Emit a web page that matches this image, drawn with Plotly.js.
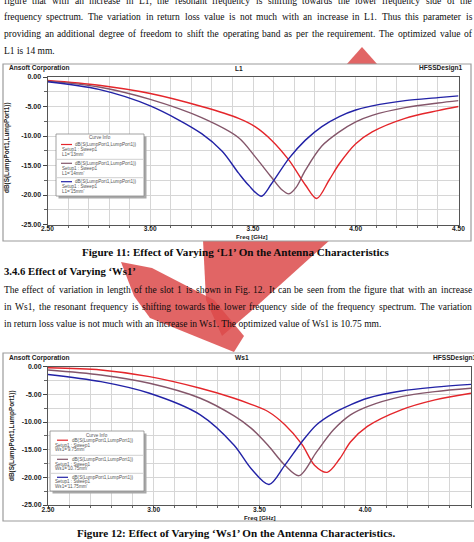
<!DOCTYPE html>
<html>
<head>
<meta charset="utf-8">
<script src="https://cdn.plot.ly/plotly-3.0.1.min.js"></script>
<style>
html,body{margin:0;padding:0;background:#fff;}
#page{width:474px;height:542px;}
</style>
</head>
<body>
<div id="page"></div>
<script>
// ---- Return loss data, Fig. 11 (slot length L1) ----
const freqL1_13 = [2.50, 2.75, 3.00, 3.25, 3.43, 3.51, 3.59, 3.675, 3.755, 3.81, 3.87, 3.92, 4.00, 4.08, 4.24, 4.40, 4.50];
const dbL1_13   = [-0.6, -1.4, -2.8, -5.0, -7.0, -8.4, -10.7, -14.1, -18.3, -20.6, -17.5, -14.7, -11.3, -9.3, -7.0, -5.7, -5.0];
const freqL1_14 = [2.50, 2.75, 3.00, 3.25, 3.43, 3.51, 3.59, 3.64, 3.675, 3.71, 3.755, 3.835, 3.92, 4.00, 4.08, 4.24, 4.40, 4.50];
const dbL1_14   = [-0.7, -1.7, -3.8, -6.9, -10.3, -13.5, -17.0, -19.1, -19.8, -18.7, -15.8, -11.7, -9.3, -7.6, -6.5, -5.2, -4.4, -4.0];
const freqL1_15 = [2.50, 2.75, 3.00, 3.25, 3.35, 3.43, 3.48, 3.54, 3.59, 3.675, 3.755, 3.835, 3.92, 4.00, 4.08, 4.24, 4.40, 4.50];
const dbL1_15   = [-0.8, -2.1, -4.9, -9.6, -12.6, -16.3, -18.4, -20.2, -18.1, -13.8, -10.7, -8.4, -6.7, -5.6, -4.9, -4.0, -3.5, -3.2];

// ---- Return loss data, Fig. 12 (slot width Ws1) ----
const freqWs_975  = [2.50, 2.75, 2.98, 3.22, 3.38, 3.46, 3.54, 3.62, 3.70, 3.76, 3.82, 3.88, 3.93, 4.01, 4.17, 4.33, 4.50];
const dbWs_975    = [-0.2, -0.6, -1.8, -3.9, -5.7, -6.8, -8.1, -10.5, -14.0, -17.8, -19.1, -16.6, -13.6, -10.8, -7.8, -6.0, -4.8];
const freqWs_1075 = [2.50, 2.75, 2.98, 3.22, 3.38, 3.46, 3.54, 3.62, 3.687, 3.77, 3.85, 3.93, 4.01, 4.17, 4.33, 4.50];
const dbWs_1075   = [-0.6, -1.5, -3.0, -5.7, -8.9, -11.1, -14.2, -17.8, -19.7, -15.4, -11.4, -8.7, -7.2, -5.4, -4.5, -3.9];
const freqWs_1175 = [2.50, 2.75, 2.98, 3.22, 3.38, 3.46, 3.545, 3.62, 3.70, 3.77, 3.85, 3.93, 4.01, 4.17, 4.33, 4.50];
const dbWs_1175   = [-1.4, -2.7, -4.8, -8.7, -14.2, -18.4, -21.3, -17.8, -13.6, -10.5, -8.4, -6.9, -5.7, -4.4, -3.7, -3.2];

// ---- Axis ticks ----
const freqTicks    = [2.5, 3.0, 3.5, 4.0, 4.5];
const freqTickText = ['2.50', '3.00', '3.50', '4.00', '4.50'];
const dbTicks      = [0, -5, -10, -15, -20, -25];
const dbTickText   = ['0.00', '-5.00', '-10.00', '-15.00', '-20.00', '-25.00'];

// ---- Legend labels ----
const traceName  = 'dB(S(LumpPort1,LumpPort1))';
const setupName  = 'Setup1 : Sweep1';
const labelsL1   = ["L1='13mm'", "L1='14mm'", "L1='15mm'"];
const labelsWs1  = ["Ws1='9.75mm'", "Ws1='10.75mm'", "Ws1='11.75mm'"];

// ---- Page text ----
const para1 = [
  'figure that with an increase in L1, the resonant frequency is shifting towards the lower frequency side of the',
  'frequency spectrum. The variation in return loss value is not much with an increase in L1. Thus this parameter is',
  'providing an additional degree of freedom to shift the operating band as per the requirement. The optimized value of',
  'L1 is 14 mm.'
];
const caption1 = 'Figure 11: Effect of Varying \u2018L1\u2019 On the Antenna Characteristics';
const heading2 = '3.4.6 Effect of Varying \u2018Ws1\u2019';
const para2 = [
  'The effect of variation in length of the slot 1 is shown in Fig. 12. It can be seen from the figure that with an increase',
  'in Ws1, the resonant frequency is shifting towards the lower frequency side of the frequency spectrum. The variation',
  'in return loss value is not much with an increase in Ws1. The optimized value of Ws1 is 10.75 mm.'
];
const caption2 = 'Figure 12: Effect of Varying \u2018Ws1\u2019 On the Antenna Characteristics.';

const W = 474, H = 542;
const px = x => x / W;
const py = y => 1 - y / H;

const RED = '#e4262b', BROWN = '#84566a', BLUE = '#2222a6';
const SERIF = 'Liberation Serif, Times New Roman, serif';
const SANS = 'Liberation Sans, Arial, sans-serif';
const BODY = 9.5;

const annotations = [];
const shapes = [];

function text(t, x, y, opts) {
  opts = opts || {};
  annotations.push({
    text: t, xref: 'paper', yref: 'paper', x: px(x), y: py(y),
    xanchor: opts.anchor || 'left', yanchor: 'middle', showarrow: false,
    textangle: opts.angle || 0,
    font: {family: opts.family || SERIF, size: opts.size || BODY, color: opts.color || '#0c0c0c',
           weight: opts.bold ? 'bold' : 'normal'}
  });
}

// justified body text: words spread between left and right margins
const ctx = document.createElement('canvas').getContext('2d');
function justified(line, y, size, x0, x1, justify) {
  ctx.font = size + 'px "Liberation Serif"';
  if (!justify) { text(line, x0 - 1, y, {size: size}); return; }
  const words = line.split(' ');
  const widths = words.map(w => ctx.measureText(w).width);
  const total = widths.reduce((a, b) => a + b, 0);
  const gap = (x1 - x0 - total) / (words.length - 1);
  let x = x0;
  words.forEach((w, i) => {
    annotations.push({
      text: w, xref: 'paper', yref: 'paper', x: px(x - 1), y: py(y),
      xanchor: 'left', yanchor: 'middle', showarrow: false,
      font: {family: SERIF, size: size, color: '#0c0c0c'}
    });
    x += widths[i] + gap;
  });
}

function rect(x0, y0, x1, y1, fill, line, layer, lw) {
  shapes.push({type: 'rect', xref: 'paper', yref: 'paper', layer: layer || 'below',
    x0: px(x0), x1: px(x1), y0: py(y1), y1: py(y0),
    fillcolor: fill, line: {color: line || 'rgba(0,0,0,0)', width: lw === undefined ? 1 : lw}});
}
function seg(x0, y0, x1, y1, color, w) {
  shapes.push({type: 'line', xref: 'paper', yref: 'paper', layer: 'above',
    x0: px(x0), x1: px(x1), y0: py(y0), y1: py(y1), line: {color: color, width: w}});
}
function poly(pts, fill) {
  const d = pts.map((p, i) => (i ? 'L' : 'M') + px(p[0]).toFixed(5) + ',' + py(p[1]).toFixed(5)).join(' ') + ' Z';
  shapes.push({type: 'path', xref: 'paper', yref: 'paper', layer: 'below', path: d,
    fillcolor: fill, line: {width: 0}});
}

// red watermark behind the page text
const WM = 'rgba(220,74,74,0.85)';
poly([[346, 65], [362, 47], [378, 65]], WM);
poly([[203, 240], [330, 240], [250, 312], [222, 336], [206, 300]], WM);
poly([[121, 262], [152, 268], [214, 300], [244, 336], [234, 352], [150, 318], [134, 296]], WM);

// chart frames (opaque, over the watermark)
rect(3, 64, 471, 241, '#ffffff', '#9c9c9c', 'below', 1.2);
rect(3, 353, 480, 521, '#ffffff', '#9c9c9c', 'below', 1.2);

// body text
justified(para1[0], 1, BODY, 3, 471, true);
justified(para1[1], 17.5, BODY, 3, 471, true);
justified(para1[2], 34.5, BODY, 3, 471, true);
justified(para1[3], 51.5, BODY, 3, 471, false);
text(caption1, 235, 252, {size: 11.1, bold: true, anchor: 'center'});
text(heading2, 2, 271, {size: 10.7, bold: true});
justified(para2[0], 290, BODY, 3, 471, true);
justified(para2[1], 307, BODY, 3, 471, true);
justified(para2[2], 323.5, BODY, 3, 471, false);
text(caption2, 236, 532.5, {size: 11.1, bold: true, anchor: 'center'});

// chart headers and axis titles
function header(y, title, tx, design, dx, dAnchor) {
  text('Ansoft Corporation', 7, y, {family: SANS, size: 6.6, bold: true, color: '#222'});
  text(title, tx, y, {family: SANS, size: 6.6, bold: true, color: '#222', anchor: 'center'});
  text(design, dx, y, {family: SANS, size: 6.6, bold: true, color: '#222', anchor: dAnchor});
}
header(68.3, 'L1', 239, 'HFSSDesign1', 465, 'right');
header(357.7, 'Ws1', 242, 'HFSSDesign1', 431, 'left');
text(traceName, 7, 148, {family: SANS, size: 6.4, bold: true, color: '#222', anchor: 'center', angle: -90});
text(traceName, 12, 436, {family: SANS, size: 6.4, bold: true, color: '#222', anchor: 'center', angle: -90});
text('Freq [GHz]', 252, 236.5, {family: SANS, size: 6.2, bold: true, color: '#222', anchor: 'center'});
text('Freq [GHz]', 259.5, 517.5, {family: SANS, size: 6.2, bold: true, color: '#222', anchor: 'center'});

// "Curve Info" boxes
function curveInfo(x0, y0, x1, y1, rows, labels, colors) {
  rect(x0 + 2.5, y0 + 2.5, x1 + 2.5, y1 + 2.5, '#a8a8a8', null, 'above', 0);
  rect(x0, y0, x1, y1, '#ffffff', '#8a8a8a', 'above', 0.8);
  text('Curve Info', (x0 + x1) / 2, rows.title, {family: SANS, size: 4.6, color: '#555', anchor: 'center'});
  rows.entries.forEach((r, i) => {
    if (i > 0) seg(x0 + 1, r[0] - 4, x1 - 1, r[0] - 4, '#b0b0b0', 0.6);
    seg(rows.lx0, r[0], rows.lx1, r[0], colors[i], 1.2);
    text(traceName, rows.tx, r[0], {family: SANS, size: 4.6, color: '#555'});
    text(setupName, rows.sx, r[1], {family: SANS, size: 4.6, color: '#555'});
    text(labels[i], rows.sx, r[2], {family: SANS, size: 4.6, color: '#555'});
  });
}
curveInfo(56, 134, 144, 196,
  {title: 137.5, lx0: 61, lx1: 72, tx: 73, sx: 59.5,
   entries: [[144.5, 149.5, 154.5], [163.3, 168.3, 173.3], [181.7, 186.7, 191.3]]},
  labelsL1, [RED, BROWN, BLUE]);
curveInfo(50, 431, 144, 491,
  {title: 435, lx0: 57, lx1: 68, tx: 70, sx: 53,
   entries: [[440.2, 445, 449.5], [459.3, 464, 468.5], [477.3, 482, 486.7]]},
  labelsWs1, [RED, BROWN, BLUE]);

// axes
function xAxis(domain, anchor) {
  return {
    domain: domain, anchor: anchor, range: [2.5, 4.5], fixedrange: true,
    tickmode: 'array', tickvals: freqTicks, ticktext: freqTickText,
    ticks: 'outside', ticklen: 2, tickcolor: '#444', tickwidth: 1, ticklabelstandoff: -4,
    showgrid: true, gridcolor: '#d6d6d6', gridwidth: 1,
    minor: {dtick: 0.1, tick0: 2.5, showgrid: true, gridcolor: '#d6d6d6', ticks: 'outside', ticklen: 2, tickcolor: '#666'},
    showline: true, linecolor: '#555', linewidth: 1, mirror: true, zeroline: false,
    tickfont: {family: SANS, size: 6.6, color: '#222', weight: 'bold'}
  };
}
function yAxis(domain, anchor) {
  return {
    domain: domain, anchor: anchor, range: [-25, 0], fixedrange: true,
    tickmode: 'array', tickvals: dbTicks, ticktext: dbTickText,
    ticks: 'outside', ticklen: 4, tickcolor: '#444', tickwidth: 1,
    showgrid: true, gridcolor: '#d6d6d6', gridwidth: 1,
    minor: {dtick: 2.5, tick0: 0, showgrid: true, gridcolor: '#d6d6d6', ticks: 'outside', ticklen: 3, tickcolor: '#666'},
    showline: true, linecolor: '#555', linewidth: 1, mirror: true, zeroline: false,
    tickfont: {family: SANS, size: 7, color: '#222', weight: 'bold'}
  };
}

function curve(x, y, color, xa, ya) {
  return {x: x, y: y, xaxis: xa, yaxis: ya, type: 'scatter', mode: 'lines',
    line: {color: color, width: 1.4, shape: 'spline', smoothing: 0.9},
    hoverinfo: 'skip', showlegend: false};
}

const data = [
  curve(freqL1_13, dbL1_13, RED, 'x', 'y'),
  curve(freqL1_14, dbL1_14, BROWN, 'x', 'y'),
  curve(freqL1_15, dbL1_15, BLUE, 'x', 'y'),
  curve(freqWs_975, dbWs_975, RED, 'x2', 'y2'),
  curve(freqWs_1075, dbWs_1075, BROWN, 'x2', 'y2'),
  curve(freqWs_1175, dbWs_1175, BLUE, 'x2', 'y2')
];

const layout = {
  width: W, height: H, margin: {l: 0, r: 0, t: 0, b: 0, pad: 0},
  paper_bgcolor: '#ffffff', plot_bgcolor: '#ffffff', showlegend: false,
  xaxis: xAxis([px(47.5), px(458.5)], 'y'),
  yaxis: yAxis([py(224.5), py(77)], 'x'),
  xaxis2: xAxis([px(48), px(471)], 'y2'),
  yaxis2: yAxis([py(505), py(366.7)], 'x2'),
  shapes: shapes, annotations: annotations
};

Plotly.newPlot('page', data, layout, {displayModeBar: false, staticPlot: true});
</script>
</body>
</html>
